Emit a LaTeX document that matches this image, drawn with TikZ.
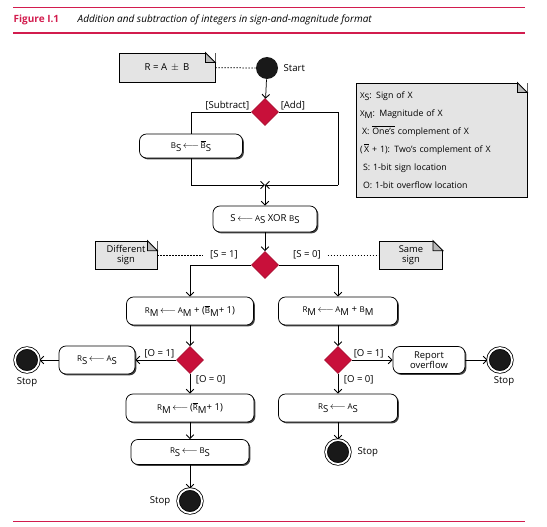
\documentclass[tikz,border=0pt]{standalone}
\usepackage{fontspec}
\setmainfont{Open Sans}
\usetikzlibrary{arrows.meta,shapes.geometric,shadows,calc}

\definecolor{figred}{RGB}{210,28,78}
\definecolor{decred}{RGB}{200,16,58}
\definecolor{notegray}{RGB}{228,228,228}
\definecolor{foldgray}{RGB}{185,185,185}

% small letter with a big lowered index, as the figure prints them
\newcommand{\sub}[2]{{\footnotesize #1}\raisebox{-2.5pt}{#2}}
\newcommand{\ovl}[1]{$\overline{\mbox{#1}}$}
\newcommand{\larr}{\,$\longleftarrow$\,}
% folded corner of a note
\newcommand{\fold}[1]{%
  \fill[white] ($(#1.north east)+(-10,0)$) -- (#1.north east) -- ($(#1.north east)+(0,10)$) -- cycle;
  \draw[fill=foldgray] ($(#1.north east)+(-10,0)$) -- ($(#1.north east)+(-10,10)$) -- ($(#1.north east)+(0,10)$) -- cycle;}

\tikzset{
  action/.style={draw, rounded corners=7pt, fill=white, minimum height=28pt, inner sep=2pt,
    drop shadow={shadow xshift=1.4pt, shadow yshift=-1.4pt, fill=black!75, opacity=1}},
  decision/.style={diamond, fill=decred, draw=decred!85!black, minimum size=27pt, inner sep=0pt},
  note/.style={draw, fill=notegray, inner sep=1pt, align=center},
  guard/.style={inner sep=1.5pt},
  initial/.style={circle, fill=black!90, minimum size=22pt, inner sep=0pt},
  final/.style={circle, fill=black!90, draw=black, double=white, double distance=1.8pt,
    line width=0.8pt, minimum size=24pt, inner sep=0pt},
  flow/.style={->},
  anchorline/.style={dash pattern=on 1.5pt off 1.5pt}
}

\begin{document}
\begin{tikzpicture}[x=1pt, y=-1pt, line width=0.75pt, font=\fontsize{9.6}{11}\selectfont,
    >={Straight Barb[length=3.8pt,width=7.5pt,line width=0.9pt]}]
    \useasboundingbox (0,0) rectangle (547,527);

    % Caption
    \draw[figred, line width=0.6pt] (13,7) -- (525,7);
    \node[anchor=west, text=figred, font=\fontsize{10}{11}\selectfont\bfseries] (fig) at (10,20) {Figure I.1};
    \node[anchor=west, font=\fontsize{10}{11}\selectfont\itshape] (title) at (74,20)
        {Addition and subtraction of integers in sign-and-magnitude format};
    \draw[figred, line width=2pt] (13,33) -- (525,33);
    \draw[figred, line width=0.8pt] (13,521) -- (525,521);

    % Start
    \node[initial] (start) at (267,68) {};
    \node[anchor=west] (starttxt) at (280,68) {Start};
    \node[note, minimum width=96pt, minimum height=29pt] (rab) at (167,67.5) {R = A \,$\pm$\, B};
    \fold{rab}
    \draw[anchorline] (rab) -- (start);

    % Subtract or add
    \node[decision] (op) at (265,112) {};
    \draw[flow] (start) -- (op);
    \node[guard, anchor=south east] (subg) at (op.west) {[Subtract]};
    \node[guard, anchor=south west] (addg) at (op.east) {[Add]};
    \node[action, minimum width=103pt, minimum height=24pt] (negb) at (191,146)
        {\sub{B}{S}\larr\ovl{\footnotesize B}\raisebox{-2.5pt}{S}};
    \coordinate (merge) at (265,185);
    \coordinate (addcorner) at (338,185);
    \draw (op.west) -| (negb.north);
    \draw[flow] (negb.south) |- (merge);
    \draw (op.east) -| (addcorner);
    \draw[flow] (addcorner) -- (merge);

    % Signs
    \node[action, minimum width=104pt, minimum height=26pt] (xor) at (265,219)
        {S\larr\sub{A}{S} XOR \sub{B}{S}};
    \draw[flow] (merge) -- (xor);
    \node[decision] (sgn) at (265,265) {};
    \draw[flow] (xor) -- (sgn);
    \node[guard] (s1) at (224,255) {[S = 1]};
    \node[guard] (s0) at (307,255) {[S = 0]};
    \node[note, minimum width=62pt, minimum height=28pt, font=\fontsize{9.4}{9.8}\selectfont] (diff) at (126,255) {Different\\sign};
    \fold{diff}
    \node[note, minimum width=63pt, minimum height=28pt, font=\fontsize{9.4}{9.8}\selectfont] (same) at (411,255) {Same\\sign};
    \fold{same}
    \draw[anchorline, shorten >=5pt] (diff) -- (s1);
    \draw[anchorline, shorten <=5pt] (s0) -- (same);

    % Branches
    \node[action, minimum width=127pt] (addl) at (190,311)
        {\sub{R}{M}\larr\sub{A}{M} + (\ovl{\footnotesize B}\raisebox{-2.5pt}{M}+ 1)};
    \node[action, minimum width=119pt] (addr) at (338,311)
        {\sub{R}{M}\larr\sub{A}{M} + \sub{B}{M}};
    \draw[flow] (sgn.west) -| (addl.north);
    \draw[flow] (sgn.east) -| (addr.north);

    % Different signs
    \node[decision] (chkl) at (190,360) {};
    \draw[flow] (addl) -- (chkl);
    \node[action, minimum width=76pt] (rsa) at (97,360) {\sub{R}{S}\larr\sub{A}{S}};
    \draw[flow] (chkl) -- (rsa);
    \node[final] (stopa) at (27,360) {};
    \draw[flow] (rsa) -- (stopa);
    \node (stopatxt) at (27,382) {Stop};
    \node[guard, anchor=south east] (o1l) at (chkl.west) {[O = 1]};
    \node[guard, anchor=north west, xshift=4pt] (o0l) at (chkl.south) {[O = 0]};
    \node[action, minimum width=128pt] (rmc) at (190,408)
        {\sub{R}{M}\larr(\ovl{\footnotesize R}\raisebox{-2.5pt}{M}+ 1)};
    \draw[flow] (chkl) -- (rmc);
    \node[action, minimum width=118pt, minimum height=25pt] (rsb) at (190,452) {\sub{R}{S}\larr\sub{B}{S}};
    \draw[flow] (rmc) -- (rsb);
    \node[final] (stopb) at (190,501) {};
    \draw[flow] (rsb) -- (stopb);
    \node[anchor=east] (stopbtxt) at (174,501) {Stop};

    % Same signs
    \node[decision] (chkr) at (338,360) {};
    \draw[flow] (addr) -- (chkr);
    \node[action, minimum width=72pt, minimum height=27pt, align=center, font=\fontsize{9.4}{9.8}\selectfont] (rep) at (429,360) {Report\\overflow};
    \draw[flow] (chkr) -- (rep);
    \node[final] (stopc) at (500,360) {};
    \draw[flow] (rep) -- (stopc);
    \node (stopctxt) at (504,381) {Stop};
    \node[guard, anchor=south west] (o1r) at (chkr.east) {[O = 1]};
    \node[guard, anchor=north west, xshift=4pt] (o0r) at (chkr.south) {[O = 0]};
    \node[action, minimum width=119pt] (rsa2) at (338,408) {\sub{R}{S}\larr\sub{A}{S}};
    \draw[flow] (chkr) -- (rsa2);
    \node[final] (stopd) at (338,452) {};
    \draw[flow] (rsa2) -- (stopd);
    \node[anchor=west] (stopdtxt) at (354,452) {Stop};

    % Legend
    \node[note, minimum width=171pt, minimum height=114pt, text width=163pt, align=left,
        font=\fontsize{8.8}{18}\selectfont] (legend) at (441.5,140)
        {\sub{X}{S}: Sign of X\\
         \sub{X}{M}: Magnitude of X\\
         \hspace*{2pt}X: \ovl{One's} complement of X\\
         (\,\ovl{X} + 1): Two's complement of X\\
         \hspace*{3pt}S: 1-bit sign location\\
         \hspace*{3pt}O: 1-bit overflow location};
    \fold{legend}
\end{tikzpicture}
\end{document}
